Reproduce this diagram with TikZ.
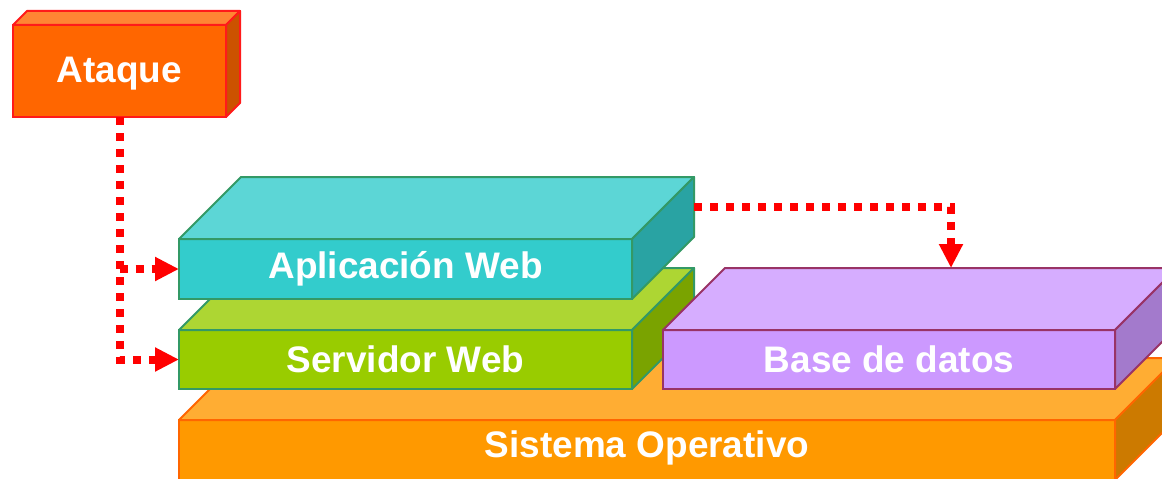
\documentclass[tikz,border=0pt]{standalone}
\usepackage{fontspec}
\setmainfont{Liberation Sans}
\usetikzlibrary{arrows.meta,calc}
\definecolor{atkF}{HTML}{FF6600}\definecolor{atkT}{HTML}{FF8533}\definecolor{atkS}{HTML}{CC5200}\definecolor{atkB}{HTML}{FF1A1A}
\definecolor{appF}{HTML}{33CCCC}\definecolor{appT}{HTML}{5CD6D6}\definecolor{appS}{HTML}{29A3A3}\definecolor{grnB}{HTML}{339966}
\definecolor{srvF}{HTML}{99CC00}\definecolor{srvT}{HTML}{ADD633}\definecolor{srvS}{HTML}{7AA300}
\definecolor{dbF}{HTML}{CC99FF}\definecolor{dbT}{HTML}{D6ADFF}\definecolor{dbS}{HTML}{A37ACC}\definecolor{dbB}{HTML}{993366}
\definecolor{soF}{HTML}{FF9900}\definecolor{soT}{HTML}{FFAD33}\definecolor{soS}{HTML}{CC7A00}\definecolor{soB}{HTML}{FF6600}
\newcommand\boxfaces[5]{%
  \filldraw[draw=#5,fill=#3,line width=1.5pt,line join=round] (#1.north west) -- ++(#2,-#2) -- ([shift={(#2,-#2)}]#1.north east) -- (#1.north east) -- cycle;
  \filldraw[draw=#5,fill=#4,line width=1.5pt,line join=round] (#1.north east) -- ++(#2,-#2) -- ([shift={(#2,-#2)}]#1.south east) -- (#1.south east) -- cycle;
}
\tikzset{
  front/.style={draw,line width=1.5pt,anchor=north west,inner sep=0pt,outer sep=0pt},
  label/.style={text=white,font=\fontsize{27.7}{33}\selectfont\bfseries},
  attack/.style={draw=red,line width=6pt,dash pattern=on 6pt off 6pt,line cap=butt,
    -{Triangle[length=18pt,width=17pt]}},
}
\begin{document}
\begin{tikzpicture}[x=0.75pt,y=-0.75pt]
\useasboundingbox (0,0) rectangle (1162,478);
\clip (0,0) rectangle (1162,478);
% Sistema Operativo
\node[front,draw=soB,fill=soF,minimum width=702pt,minimum height=45pt] (so) at (179,420) {};
\boxfaces{so}{62}{soT}{soS}{soB}
\node[label] (sot) at ($(so.center)+(0,-2)$) {Sistema Operativo};
% Servidor Web
\node[front,draw=grnB,fill=srvF,minimum width=339.75pt,minimum height=44.25pt] (srv) at (179,330) {};
\boxfaces{srv}{62}{srvT}{srvS}{grnB}
\node[label] (srvt) at (srv.center) {Servidor Web};
% Base de datos
\node[front,draw=dbB,fill=dbF,minimum width=339pt,minimum height=44.25pt] (db) at (663,330) {};
\boxfaces{db}{62}{dbT}{dbS}{dbB}
\node[label] (dbt) at (db.center) {Base de datos};
% Aplicacion Web
\node[front,draw=grnB,fill=appF,minimum width=339.75pt,minimum height=45pt] (app) at (179,239) {};
\boxfaces{app}{62}{appT}{appS}{grnB}
\node[label] (appt) at (app.center) {Aplicación Web};
% Ataque
\node[front,draw=atkB,fill=atkF,minimum width=159.75pt,minimum height=69pt] (atk) at (13,25) {};
\boxfaces{atk}{14}{atkT}{atkS}{atkB}
\node[label] (atkt) at ($(atk.center)+(0,3)$) {Ataque};
% connectors
\coordinate (branch) at (atk.south |- app.west);
\coordinate (appback) at ([shift={(62,-62)}]app.east);
\coordinate (dbtop) at ([shift={(62,-62)}]db.north);
\draw[attack] (atk.south) |- (srv.west);
\draw[attack] (branch) -- (app.west);
\draw[attack] (appback) -| (dbtop);
\end{tikzpicture}
\end{document}
